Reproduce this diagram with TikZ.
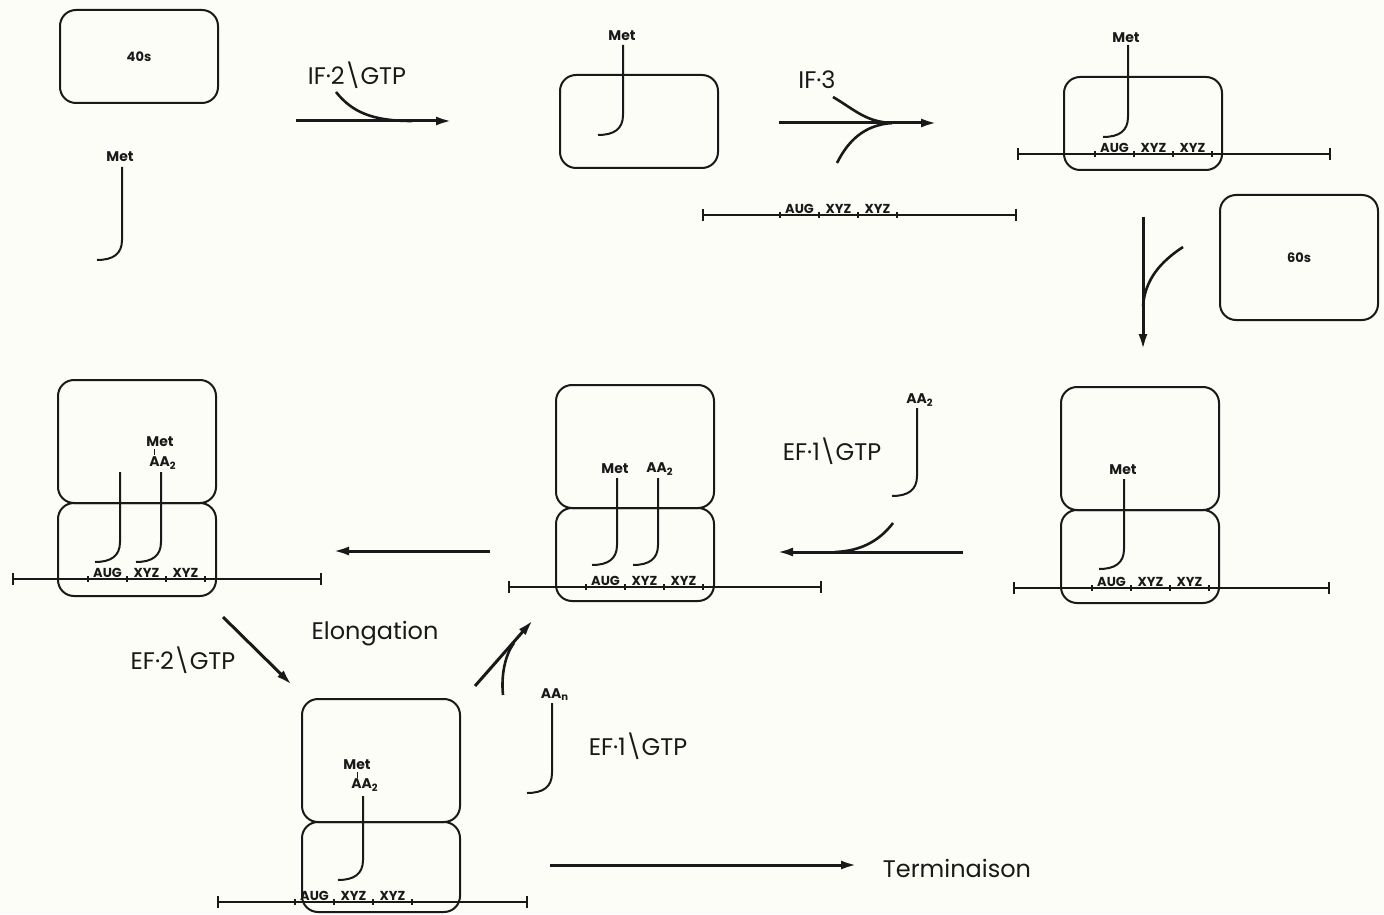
\documentclass[tikz,border=0pt]{standalone}
\usepackage{fontspec}
\setmainfont{Poppins}
\usetikzlibrary{positioning,arrows.meta}
\definecolor{paper}{RGB}{253,253,247}
\definecolor{ink}{RGB}{25,25,25}
\tikzset{
  sub/.style={rectangle,rounded corners=8pt,draw=ink,line width=1pt,minimum width=79pt,inner sep=0pt,outer sep=0pt,text=ink,font=\fontsize{6.5}{7}\selectfont\bfseries},
  smallsub/.style={sub,minimum height=46.5pt},
  largesub/.style={sub,minimum height=61.5pt},
  react/.style={draw=ink,line width=1.5pt,-{Latex[length=8pt,width=4.5pt]}},
  branch/.style={draw=ink,line width=1.3pt},
  strand/.style={draw=ink,line width=1pt,{Bar[width=6pt]}-{Bar[width=6pt]}},
  codontick/.style={draw=ink,line width=0.6pt},
  codon/.style={anchor=south,inner sep=0.6pt,text=ink,font=\fontsize{6.5}{6.5}\selectfont\bfseries},
  trnaline/.style={draw=ink,line width=1pt},
  bond/.style={draw=ink,line width=0.5pt},
  aa/.style={inner sep=0.5pt,text=ink,font=\fontsize{7}{7}\selectfont\bfseries},
  factor/.style={inner sep=0pt,text=ink,font=\fontsize{12}{12}\selectfont}
}
% messenger: name, left end, right end, height, first codon mark
\newcommand{\mrna}[5]{%
  \coordinate (#1-l) at (#2,#4);
  \coordinate (#1-r) at (#3,#4);
  \draw[strand] (#1-l) -- (#1-r);
  \foreach \k [count=\c from 0] in {AUG,XYZ,XYZ}{
    \draw[codontick] (#5+39*\c,#4-3) -- ++(0,6);
    \node[codon] (#1-\c) at (#5+39*\c+19.5,#4) {\k};
  }
  \draw[codontick] (#5+117,#4-3) -- ++(0,6);
}
% transfer RNA: name, x, top, bottom of the hook
\newcommand{\trna}[4]{%
  \coordinate (#1-top) at (#2,#3);
  \coordinate (#1-end) at (#2-25,#4);
  \draw[trnaline] (#1-top) -- (#2,#4-20) .. controls (#2,#4-6) and (#2-9,#4) .. (#1-end);
}

\begin{document}
\begin{tikzpicture}[x=0.5pt,y=-0.5pt]
  \fill[paper] (0,0) rectangle (1384,914);
  \useasboundingbox (0,0) rectangle (1384,914);

  % initiation
  \node[smallsub,anchor=north west] (s40) at (60,10) {40s};
  \node[aa] (m0) at (120,157) {Met};
  \trna{t0}{122}{167}{260}

  \node[factor] (if2) at (357,75) {IF·2\textbackslash GTP};
  \coordinate (a1s) at (296,121);
  \coordinate (a1e) at (452,121);
  \draw[react] (a1s) -- (a1e);
  \draw[branch] (336,92) .. controls (352,112) and (372,121) .. (412,121);

  \node[smallsub,anchor=north west] (ri1) at (560,75) {};
  \node[aa] (m1) at (622,36) {Met};
  \trna{t1}{623}{45}{135}

  \node[factor] (if3) at (817,80) {IF·3};
  \coordinate (a2s) at (779,123);
  \coordinate (a2e) at (937,123);
  \draw[react] (a2s) -- (a2e);
  \draw[branch] (833,97) .. controls (855,110) and (866,122) .. (892,123);
  \draw[branch] (837,163) .. controls (848,141) and (864,125) .. (892,123);
  \mrna{f}{702}{1017}{215}{780}

  \node[smallsub,anchor=north west] (ri2) at (1064,77) {};
  \node[aa] (m2) at (1126,38) {Met};
  \trna{t2}{1128}{45}{137}
  \mrna{g}{1017}{1331}{154}{1095}

  \coordinate (a3s) at (1143,217);
  \coordinate (a3e) at (1143,350);
  \draw[react] (a3s) -- (a3e);
  \draw[branch] (1183,247) .. controls (1160,262) and (1145,280) .. (1143,306);
  \node[largesub,anchor=north west,minimum height=62.5pt] (s60) at (1220,195) {60s};

  % elongation
  \node[largesub,anchor=north west] (ri3) at (1061,387) {};
  \node[smallsub,below=0pt of ri3] (ri3b) {};
  \node[aa] (m3) at (1123,470) {Met};
  \trna{t3}{1124}{479}{569}
  \mrna{h}{1013}{1330}{588}{1092}

  \node[factor] (ef1a) at (832,451) {EF·1\textbackslash GTP};
  \node[aa] (aa2f) at (920,400) {AA\textsubscript{2}};
  \trna{t4}{917}{408}{496}
  \coordinate (a4s) at (963,552);
  \coordinate (a4e) at (777,552);
  \draw[react] (a4s) -- (a4e);
  \draw[branch] (893,523) .. controls (880,540) and (862,551) .. (835,552);

  \node[largesub,anchor=north west] (ri4) at (556,385) {};
  \node[smallsub,below=0pt of ri4] (ri4b) {};
  \node[aa] (m4) at (615,469) {Met};
  \node[aa] (aa4) at (660,469) {AA\textsubscript{2}};
  \trna{t5}{617}{478}{565}
  \trna{t6}{658}{478}{565}
  \mrna{k}{508}{822}{587}{586}

  \coordinate (a5s) at (490,551);
  \coordinate (a5e) at (333,551);
  \draw[react] (a5s) -- (a5e);

  \node[largesub,anchor=north west] (ri5) at (58,380) {};
  \node[smallsub,below=0pt of ri5] (ri5b) {};
  \node[aa] (m5) at (160,442) {Met};
  \node[aa] (aa5) at (163,463) {AA\textsubscript{2}};
  \draw[bond] (154,449) -- (154,455);
  \trna{t7}{120}{472}{562}
  \trna{t8}{161}{472}{562}
  \mrna{n}{12}{322}{579}{88}

  \node[factor] (ef2) at (183,660) {EF·2\textbackslash GTP};
  \coordinate (a6s) at (223,617);
  \coordinate (a6e) at (292,685);
  \draw[react] (a6s) -- (a6e);
  \node[factor] (elong) at (375,634) {Elongation};

  \node[largesub,anchor=north west] (ri6) at (302,699) {};
  \node[smallsub,below=0pt of ri6,minimum height=45pt] (ri6b) {};
  \node[aa] (m6) at (357,765) {Met};
  \node[aa] (aa6) at (365,785) {AA\textsubscript{2}};
  \draw[bond] (357,772) -- (357,778);
  \trna{t9}{363}{796}{880}
  \mrna{p}{217}{528}{902}{295}

  \coordinate (a7s) at (475,686);
  \coordinate (a7e) at (533,620);
  \draw[react] (a7s) -- (a7e);
  \draw[branch] (503,695) .. controls (501,675) and (505,655) .. (514,643);
  \node[aa] (aan) at (555,695) {AA\textsubscript{n}};
  \trna{t10}{552}{703}{793}
  \node[factor] (ef1b) at (638,746) {EF·1\textbackslash GTP};

  % termination
  \coordinate (a8s) at (550,865);
  \coordinate (a8e) at (857,865);
  \draw[react] (a8s) -- (a8e);
  \node[factor] (term) at (957,868) {Terminaison};
\end{tikzpicture}
\end{document}
